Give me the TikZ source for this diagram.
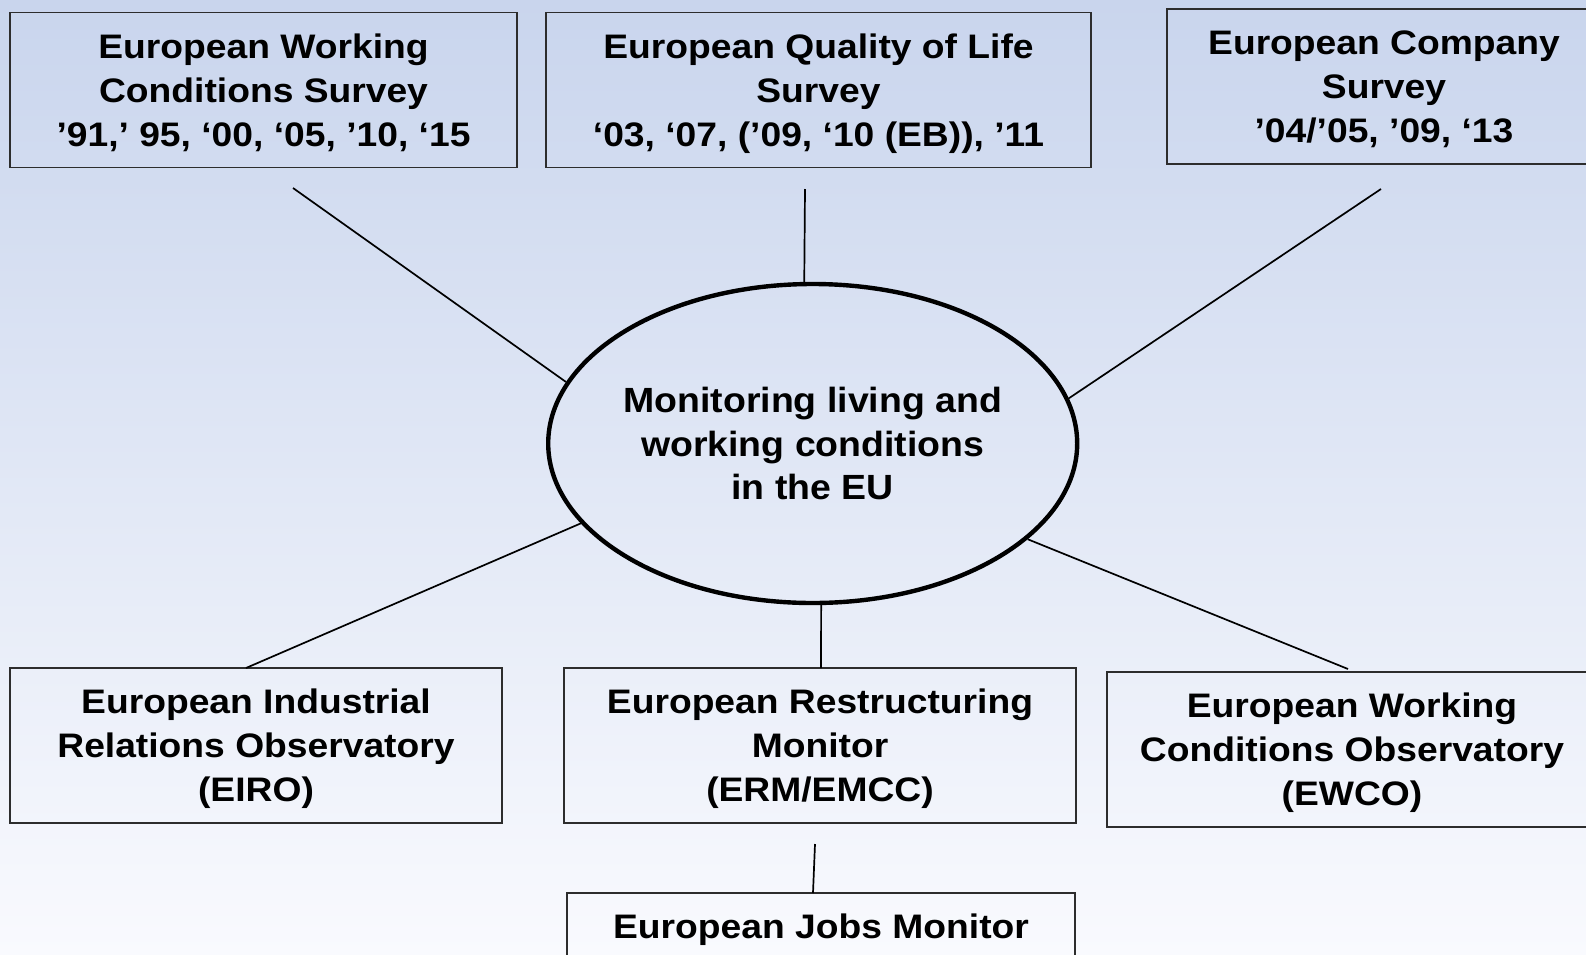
\documentclass[tikz,border=0pt]{standalone}
\usepackage{fontspec}
\setmainfont{Liberation Sans}
\newfontfamily\boxfont{Liberation Sans}[FakeStretch=1.095]
\newfontfamily\hubfont{Liberation Sans}[FakeStretch=1.07]
\usetikzlibrary{shapes.geometric}

\definecolor{bgtop}{RGB}{201,213,237}
\definecolor{bgbottom}{RGB}{249,250,254}
\definecolor{frame}{RGB}{45,45,45}

\tikzset{
  infobox/.style={draw=frame, line width=0.7pt, rectangle, inner sep=0pt,
    align=center, minimum height=77.5pt, text depth=0pt,
    font=\boxfont\bfseries\fontsize{17pt}{22pt}\selectfont},
  hubnode/.style={draw=black, line width=2.2pt, ellipse, inner xsep=-5pt, inner ysep=0pt,
    minimum width=264.5pt, minimum height=159.5pt, align=center, text depth=0pt,
    font=\hubfont\bfseries\fontsize{17.5pt}{21.75pt}\selectfont},
  link/.style={draw=black, line width=0.85pt}
}

\begin{document}
\begin{tikzpicture}[x=0.5pt,y=-0.5pt]
  \useasboundingbox (0,0) rectangle (1586,954);
  % soft blue-to-white backdrop
  \shade[top color=bgtop, bottom color=bgbottom] (0,0) rectangle (1586,954);
  \clip (0,0) rectangle (1586,954);

  % central ellipse
  \node[hubnode] (hub) at (812.7,443.5)
    {Monitoring living and\\working conditions\\in the EU};

  % surveys along the top
  \node[infobox, minimum width=253.5pt] (ewcs) at (263.5,90)
    {European Working\\Conditions Survey\\’91,’ 95, ‘00, ‘05, ’10, ‘15};
  \node[infobox, minimum width=272.5pt] (eqls) at (818.5,90)
    {European Quality of Life\\Survey\\‘03, ‘07, (’09, ‘10 (EB)), ’11};
  \node[infobox, minimum width=217pt] (ecs) at (1384,86.5)
    {European Company\\Survey\\’04/’05, ’09, ‘13};

  % observatories and monitors along the bottom
  \node[infobox, minimum width=246pt] (eiro) at (256,745.5)
    {European Industrial\\Relations Observatory\\(EIRO)};
  \node[infobox, minimum width=256pt] (erm) at (820,745.5)
    {European Restructuring\\Monitor\\(ERM/EMCC)};
  \node[infobox, minimum width=245pt] (ewco) at (1352,749.5)
    {European Working\\Conditions Observatory\\(EWCO)};
  \node[infobox, minimum width=254pt, minimum height=33.5pt] (ejm) at (821,926.5)
    {European Jobs Monitor};

  % free ends of the spokes
  \coordinate (ewcsEnd) at (293,188);
  \coordinate (eqlsEnd) at (805,189);
  \coordinate (ecsEnd)  at (1381,189);
  \coordinate (eiroEnd) at (246,668);
  \coordinate (ermEnd)  at (821,668);
  \coordinate (ewcoEnd) at (1348,669);
  \coordinate (ermLow)  at (815,844);
  \coordinate (ejmEnd)  at (813,893);

  % spokes
  \draw[link] (ewcsEnd) -- (hub.166);
  \draw[link] (eqlsEnd) -- (hub.93);
  \draw[link] (ecsEnd)  -- (hub.10);
  \draw[link] (hub.199) -- (eiroEnd);
  \draw[link] (hub.273) -- (ermEnd);
  \draw[link] (hub.336) -- (ewcoEnd);
  \draw[link] (ermLow)  -- (ejmEnd);
\end{tikzpicture}
\end{document}
